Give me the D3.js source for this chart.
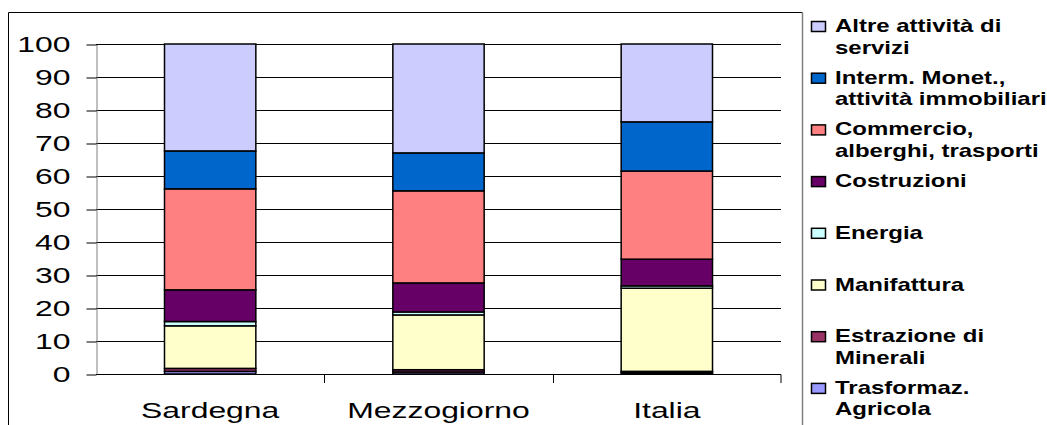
<!DOCTYPE html>
<html>
<head>
<meta charset="utf-8">
<script src="https://cdn.jsdelivr.net/npm/d3@7"></script>
<style>
  body { margin: 0; background: #fff; }
  text { font-family: "Liberation Sans", Arial, sans-serif; }
</style>
</head>
<body>
<div id="chart"></div>
<script>
// regions on the x axis
var regions = ["Sardegna", "Mezzogiorno", "Italia"];

// sectors, bottom of the stack first
var sectors = ["Trasformaz. Agricola", "Estrazione di Minerali", "Manifattura", "Energia",
               "Costruzioni", "Commercio, alberghi, trasporti",
               "Interm. Monet., attività immobiliari", "Altre attività di servizi"];

// share of each sector (%), one array per region, same order as sectors
var sardegna    = [0.8, 0.9, 12.9, 1.3, 9.6, 30.6, 11.5, 32.4];
var mezzogiorno = [0.6, 0.7, 16.6, 0.9, 8.8, 27.9, 11.5, 33.0];
var italia      = [0.4, 0.4, 25.2, 0.7, 8.1, 26.7, 14.9, 23.6];

var yTicks = [0, 10, 20, 30, 40, 50, 60, 70, 80, 90, 100];

// legend lines, top to bottom
var legendLines = [
    ["Altre attività di", "servizi"],
    ["Interm. Monet.,", "attività immobiliari"],
    ["Commercio,", "alberghi, trasporti"],
    ["Costruzioni"],
    ["Energia"],
    ["Manifattura"],
    ["Estrazione di", "Minerali"],
    ["Trasformaz.", "Agricola"]
];

var colors = ["#9999FF", "#993366", "#FFFFCC", "#CCFFFF", "#660066", "#FF8080", "#0066CC", "#CCCCFF"];

var width = 1047, height = 425;
var stretch = 1.45;   // text in the picture is drawn wide

var svg = d3.select("#chart").append("svg")
    .attr("width", width)
    .attr("height", height);

// chart frame
svg.append("line").attr("x1", 8.5).attr("x2", 8.5).attr("y1", 12.5).attr("y2", height)
    .style("stroke", "#000").style("stroke-width", 1);
svg.append("line").attr("x1", 8.5).attr("x2", 802.5).attr("y1", 12.5).attr("y2", 12.5)
    .style("stroke", "#000").style("stroke-width", 1);
svg.append("line").attr("x1", 802.5).attr("x2", 802.5).attr("y1", 12.5).attr("y2", height)
    .style("stroke", "#808080").style("stroke-width", 1.5);

var x = d3.scaleBand().domain(regions).range([96, 781]).paddingInner(0.6).paddingOuter(0.3);
var xb = d3.scaleBand().domain(regions).range([96, 781]);
var y = d3.scaleLinear().domain([0, 100]).range([374, 44]);

// gridlines
svg.append("g").selectAll("line")
    .data(yTicks.filter(function (d) { return d > 0; }))
    .enter().append("line")
    .attr("x1", 96).attr("x2", 781)
    .attr("y1", function (d) { return Math.round(y(d)) + 0.5; })
    .attr("y2", function (d) { return Math.round(y(d)) + 0.5; })
    .style("stroke", "#000")
    .style("stroke-width", 1);

// y axis
var yAxis = svg.append("g")
    .attr("transform", "translate(96.5,0.5)")
    .call(d3.axisLeft(y).tickValues(yTicks).tickSize(10).tickPadding(8).tickSizeOuter(0));
yAxis.select(".domain").style("stroke", "#808080");
yAxis.selectAll(".tick line").style("stroke", "#000");
yAxis.selectAll("text")
    .attr("transform", "scale(" + stretch + ",1)")
    .style("font-size", "22px")
    .style("fill", "#000");

// x axis: baseline and ticks between categories
svg.append("line").attr("x1", 96).attr("x2", 781).attr("y1", 374.5).attr("y2", 374.5)
    .style("stroke", "#000");
svg.append("g").selectAll("line")
    .data(regions.slice(1).concat(["end"]))
    .enter().append("line")
    .attr("x1", function (d) { return d === "end" ? 781 : Math.round(xb(d)) + 0.5; })
    .attr("x2", function (d) { return d === "end" ? 781 : Math.round(xb(d)) + 0.5; })
    .attr("y1", 374.5).attr("y2", 383)
    .style("stroke", "#000");

svg.append("g").selectAll("text")
    .data(regions)
    .enter().append("text")
    .attr("transform", function (d) {
        return "translate(" + (xb(d) + xb.bandwidth() / 2) + ",418) scale(" + stretch + ",1)";
    })
    .attr("text-anchor", "middle")
    .style("font-size", "22px")
    .text(function (d) { return d; });

// stacked bars
var table = regions.map(function (r, i) {
    var vals = [sardegna, mezzogiorno, italia][i];
    var row = { region: r };
    sectors.forEach(function (s, j) { row[s] = vals[j]; });
    return row;
});
var series = d3.stack().keys(sectors)(table);

svg.append("g").selectAll("g")
    .data(series)
    .enter().append("g")
    .style("fill", function (d, i) { return colors[i]; })
    .selectAll("rect")
    .data(function (d) { return d; })
    .enter().append("rect")
    .attr("x", function (d) { return x(d.data.region); })
    .attr("width", x.bandwidth())
    .attr("y", function (d) { return y(d[1]); })
    .attr("height", function (d) { return y(d[0]) - y(d[1]); })
    .style("stroke", "#000")
    .style("stroke-width", 1.5);

// legend
var legend = svg.append("g").selectAll("g")
    .data(legendLines)
    .enter().append("g")
    .attr("transform", function (d, i) { return "translate(0," + (32 + 51.7 * i) + ")"; });

legend.append("rect")
    .attr("x", 811.5).attr("y", -10.5)
    .attr("width", 14).attr("height", 10)
    .style("fill", function (d, i) { return colors[sectors.length - 1 - i]; })
    .style("stroke", "#000")
    .style("stroke-width", 1.5);

legend.each(function (lines) {
    var g = d3.select(this);
    lines.forEach(function (t, k) {
        g.append("text")
            .attr("transform", "translate(835," + (k * 21.5) + ") scale(1.37,1)")
            .style("font-size", "17.5px")
            .style("font-weight", "bold")
            .text(t);
    });
});
</script>
</body>
</html>
